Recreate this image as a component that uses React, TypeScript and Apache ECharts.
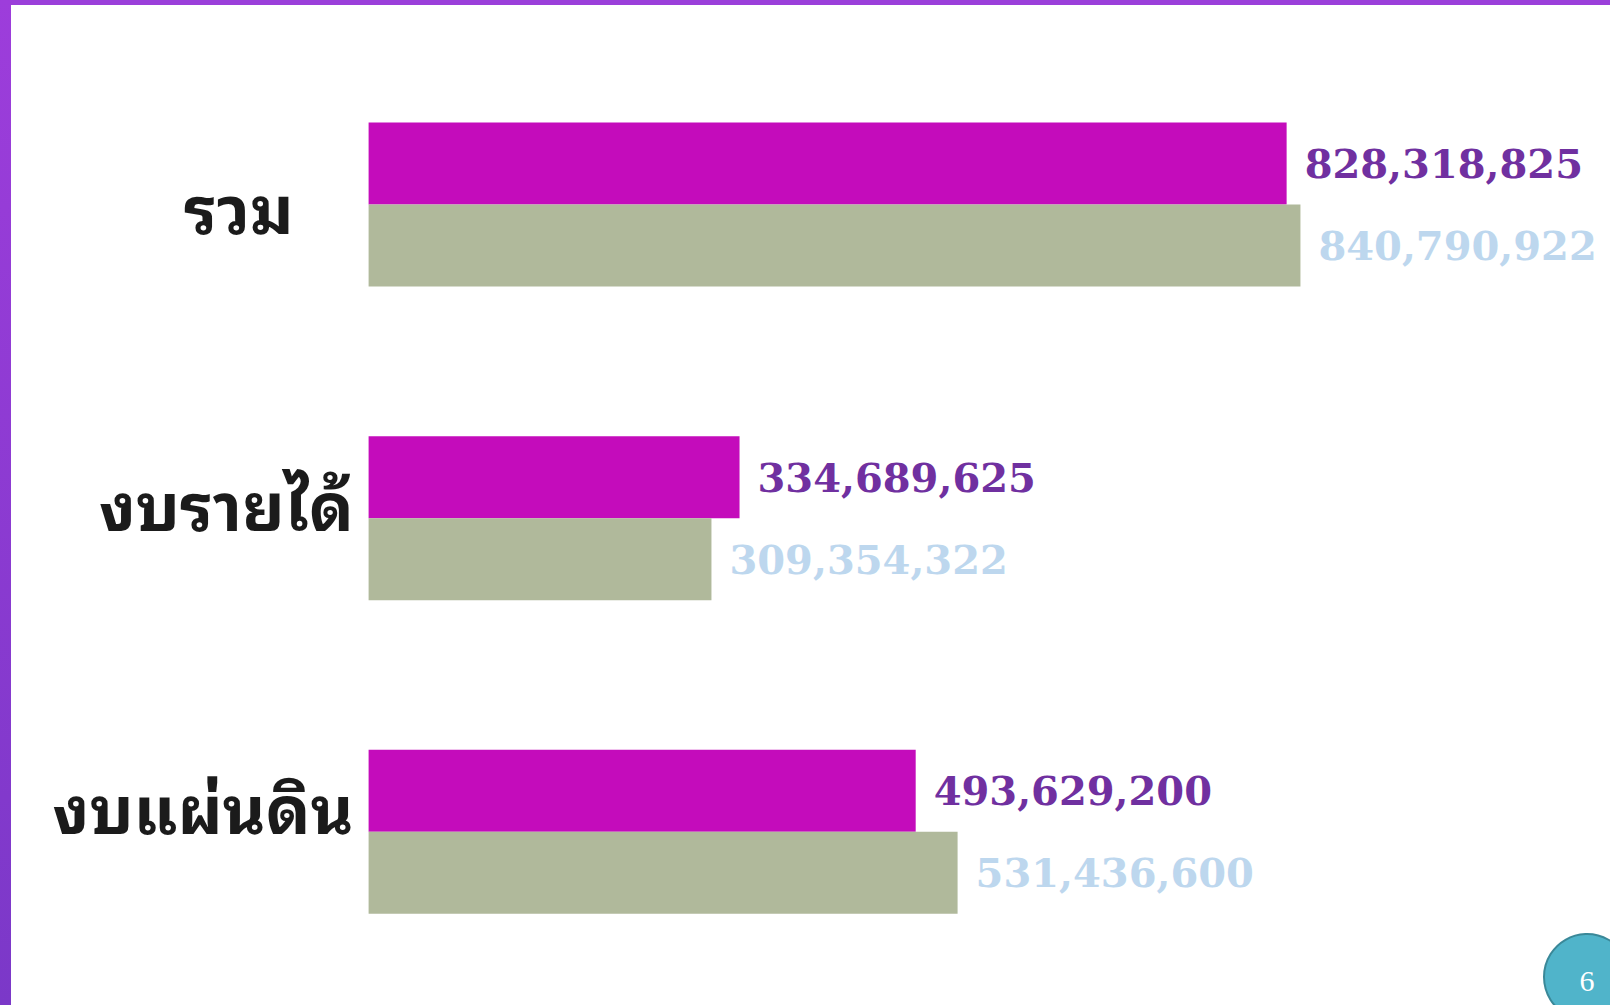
import React, { useEffect, useRef } from "react";
import * as echarts from "echarts";

const categories = ["รวม", "งบรายได้", "งบแผ่นดิน"];
const seriesA = [828318825, 334689625, 493629200];
const seriesB = [840790922, 309354322, 531436600];
const pageNumber = "6";

const fmt = (n: number) => n.toLocaleString("en-US");

export default function App() {
  const ref = useRef<HTMLDivElement>(null);
  useEffect(() => {
    if (!ref.current) return;
    const chart = echarts.init(ref.current, null, { renderer: "svg" });
    const labelStyles: any = {
      c0: { padding: [0, 60, 2, 0] },
      c1: { padding: [0, 0, 34, 0] },
      c2: { padding: [0, 0, 56, 0] },
    };
    Object.keys(labelStyles).forEach((k) => {
      labelStyles[k] = {
        ...labelStyles[k],
        fontSize: 66,
        fontWeight: "bold",
        color: "#1b1b1b",
        fontFamily:
          "'Noto Sans Thai Looped', 'Noto Serif Thai', 'Noto Sans Thai', 'Noto Sans', sans-serif",
      };
    });
    const valueLabel = (color: string) => ({
      show: true,
      position: "right",
      distance: 18,
      formatter: (p: any) => fmt(p.value),
      color,
      fontSize: 40,
      fontWeight: "bold",
      fontFamily: "'DejaVu Serif', serif",
    });
    chart.setOption({
      animation: false,
      backgroundColor: "#ffffff",
      grid: { left: 368.6, top: 47.7, width: 1108.3, height: 941 },
      xAxis: {
        type: "value",
        min: 0,
        max: 1000000000,
        show: false,
      },
      yAxis: {
        type: "category",
        data: categories,
        inverse: true,
        axisLine: { show: false },
        axisTick: { show: false },
        splitLine: { show: false },
        axisLabel: {
          margin: 15,
          align: "right",
          formatter: (v: string, i: number) => `{c${i}|${v}}`,
          rich: labelStyles,
        },
      },
      series: [
        {
          type: "bar",
          data: seriesA,
          barWidth: 82,
          barGap: "0%",
          itemStyle: { color: "#C40CBB" },
          label: valueLabel("#7030A0"),
        },
        {
          type: "bar",
          data: seriesB,
          barWidth: 82,
          barGap: "0%",
          itemStyle: { color: "#B0B99B" },
          label: valueLabel("#BDD7EE"),
        },
      ],
      graphic: [
        {
          type: "rect",
          shape: { x: 0, y: 0, width: 1610, height: 5 },
          style: { fill: "#9B3FDA" },
        },
        {
          type: "rect",
          shape: { x: 0, y: 0, width: 11, height: 1005 },
          style: {
            fill: new echarts.graphic.LinearGradient(0, 0, 0, 1, [
              { offset: 0, color: "#9D3DDB" },
              { offset: 1, color: "#7B38C8" },
            ]),
          },
        },
        {
          type: "circle",
          shape: { cx: 1587, cy: 977, r: 43 },
          style: { fill: "#50B4CA", stroke: "#3A8898", lineWidth: 2 },
        },
        {
          type: "text",
          x: 1587,
          y: 980,
          style: {
            text: pageNumber,
            fill: "#ffffff",
            fontSize: 30,
            fontFamily: "'Liberation Serif', serif",
            align: "center",
            verticalAlign: "middle",
          },
        },
      ],
    });
    return () => chart.dispose();
  }, []);
  return (
    <div
      ref={ref}
      style={{ position: "fixed", left: 0, top: 0, width: 1610, height: 1005 }}
    />
  );
}
